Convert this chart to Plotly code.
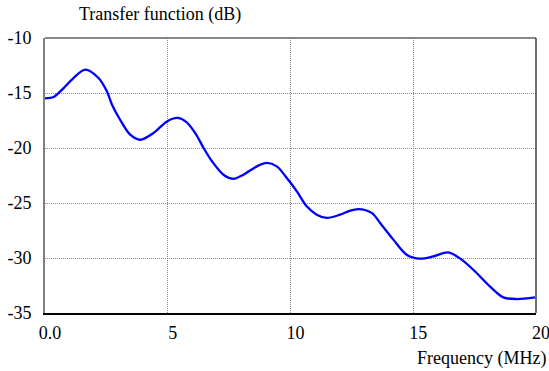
import plotly.graph_objects as go

freq_mhz = [0.0, 0.35, 0.76, 1.16, 1.64, 2.18, 2.52, 2.73, 3.06, 3.47, 3.88, 4.42, 4.97, 5.4,
            5.75, 6.12, 6.46, 6.8, 7.27, 7.68, 8.08, 8.63, 9.04, 9.44, 9.85, 10.26, 10.66,
            11.07, 11.48, 12.02, 12.4, 12.76, 13.31, 13.65, 14.19, 14.73, 15.28, 15.82,
            16.43, 16.97, 17.58, 18.12, 18.67, 19.21, 19.96]
transfer_db = [-15.48, -15.36, -14.55, -13.64, -12.88, -13.64, -14.85, -16.06, -17.43, -18.79,
               -19.25, -18.64, -17.58, -17.27, -17.62, -18.64, -20.0, -21.2, -22.43, -22.8,
               -22.43, -21.67, -21.36, -21.67, -22.73, -23.94, -25.3, -26.06, -26.36, -26.06,
               -25.72, -25.55, -25.9, -26.82, -28.33, -29.7, -30.06, -29.85, -29.49, -30.15,
               -31.36, -32.58, -33.58, -33.73, -33.58]

x_tickvals = [0, 5, 10, 15, 20]
x_ticktext = ["0.0", "5", "10", "15", "20"]
y_tickvals = [-10, -15, -20, -25, -30, -35]
y_ticktext = ["-10", "-15", "-20", "-25", "-30", "-35"]

font_family = "Times New Roman, Liberation Serif, DejaVu Serif, serif"
FS = 18

W, H = 549, 371
L, R, T, B = 45, 13, 38, 58
PW, PH = W - L - R, H - T - B

fig = go.Figure()
fig.add_trace(go.Scatter(x=freq_mhz, y=transfer_db, mode="lines",
                         line=dict(color="#0000ff", width=2.3, shape="spline", smoothing=0.9),
                         hoverinfo="skip"))

grid = dict(showgrid=True, gridcolor="#8c8c8c", griddash="1px,1px", gridwidth=1)

fig.update_layout(
    width=W, height=H,
    margin=dict(l=L, r=R, t=T, b=B, pad=0, autoexpand=False),
    paper_bgcolor="white", plot_bgcolor="white",
    showlegend=False,
    font=dict(family=font_family, size=FS, color="black"),
    xaxis=dict(range=[0, 20], tickvals=x_tickvals, ticktext=x_ticktext, **grid,
               zeroline=False, showline=True, linecolor="black", linewidth=1.5,
               ticks="", ticklabelshift=5, ticklabelstandoff=3, automargin=False,
               ticklabeloverflow="allow",
               tickfont=dict(family=font_family, size=FS)),
    yaxis=dict(range=[-35, -10], tickvals=y_tickvals, ticktext=y_ticktext, **grid,
               zeroline=False, showline=True, linecolor="#808080", linewidth=2,
               ticks="", ticklabelstandoff=8, automargin=False,
               ticklabeloverflow="allow",
               tickfont=dict(family=font_family, size=FS)),
    shapes=[
        dict(type="line", xref="paper", yref="paper", x0=0, x1=1, y0=1, y1=1,
             line=dict(color="#606060", width=1.5)),
        dict(type="line", xref="paper", yref="paper", x0=1, x1=1, y0=0, y1=1,
             line=dict(color="#404040", width=1.5)),
    ],
    annotations=[
        dict(text="Transfer function (dB)", xref="paper", yref="paper",
             x=(77 - L) / PW, y=1 + (T - 15) / PH, xanchor="left", yanchor="middle",
             showarrow=False, font=dict(family=font_family, size=FS)),
        dict(text="Frequency (MHz)", xref="paper", yref="paper",
             x=(548 - L) / PW, y=-(358 - (H - B)) / PH, xanchor="right", yanchor="middle",
             showarrow=False, font=dict(family=font_family, size=FS)),
    ],
)

fig.write_html(
    "out.html",
    config={"displayModeBar": False, "staticPlot": True},
    post_script="document.body.style.margin='0';document.documentElement.style.overflow='hidden';document.body.style.overflow='hidden';",
)
